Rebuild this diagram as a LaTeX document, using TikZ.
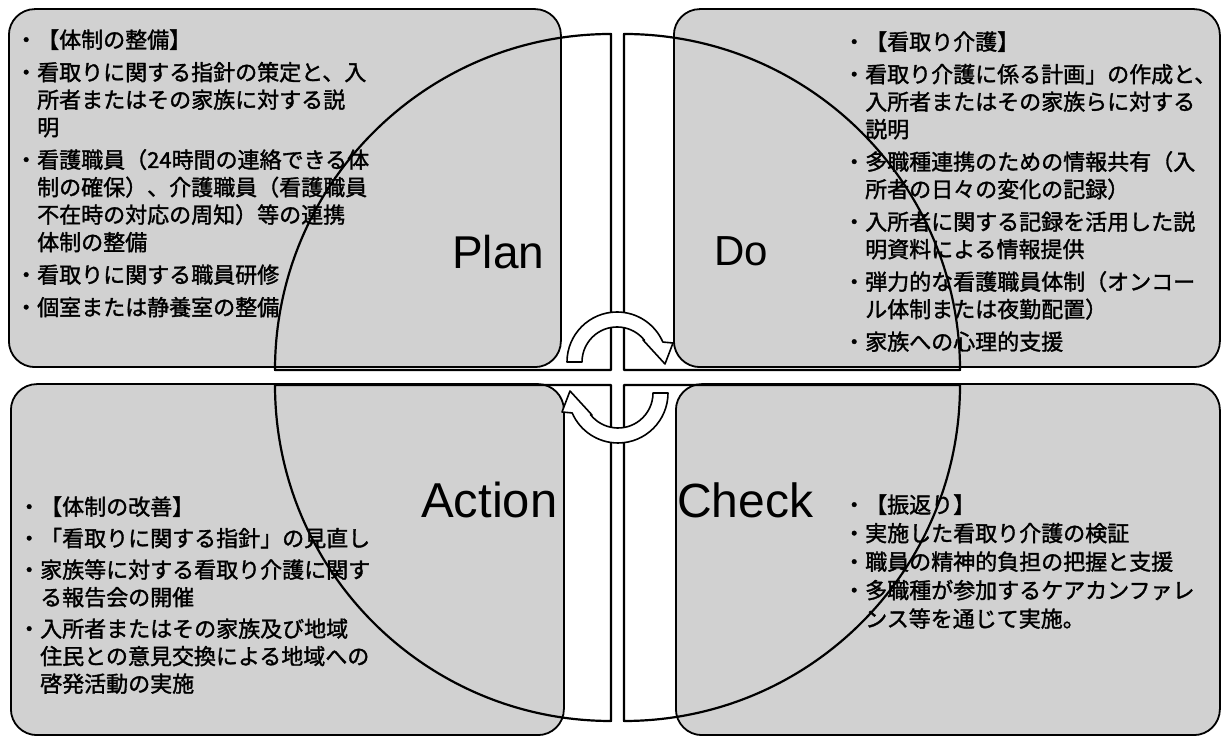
\documentclass[tikz,border=0pt]{standalone}
\usepackage{fontspec}
\setmainfont{Liberation Sans}
\newfontfamily\jp[FakeBold=1.5]{Noto Sans CJK JP}
\newcommand{\bulx}{\makebox[15pt][l]{\hspace*{-7pt}・}}
\newcommand{\indx}{\hspace*{15pt}}
\begin{document}
\begin{tikzpicture}[x=1pt,y=1pt,
  box/.style={draw=black, line width=1.8pt, fill=black!18, rounded corners=26pt, inner sep=0pt, anchor=south west},
  quarter/.style={draw=black, line width=2.2pt, line join=round},
  cyc/.style={draw=black, line width=1.6pt, fill=white, line join=round},
  lbl/.style={anchor=base west, inner sep=0pt},
  txt/.style={anchor=base west, inner sep=0pt}
]
\useasboundingbox (0,0) rectangle (1226,738);
\fill[white] (0,0) rectangle (1226,738);

% boxes
\node[box, minimum width=552pt, minimum height=358pt] (planbox) at (8,370) {};
\node[box, minimum width=546pt, minimum height=358pt] (dobox) at (673,370) {};
\node[box, minimum width=553pt, minimum height=351pt] (actbox) at (10,2) {};
\node[box, minimum width=544pt, minimum height=351pt] (chkbox) at (675,2) {};

% quarters of the cycle
\draw[quarter] (611,368) -- (611,704) arc[start angle=90, end angle=180, radius=336pt] -- cycle;
\draw[quarter] (624,368) -- (960,368) arc[start angle=0, end angle=90, radius=336pt] -- cycle;
\draw[quarter] (611,353) -- (275,353) arc[start angle=180, end angle=270, radius=336pt] -- cycle;
\draw[quarter] (624,353) -- (624,17) arc[start angle=270, end angle=360, radius=336pt] -- cycle;

% circular arrows
\begin{scope}[shift={(617,376)}]
\draw[cyc] (180:50pt) arc[start angle=180, end angle=23.5, radius=50pt] -- (56,19) -- (48,-2) -- (26,22) -- (38.3:35pt) arc[start angle=38.3, end angle=180, radius=35pt] -- cycle;
\end{scope}
\begin{scope}[shift={(618,345)}, rotate=180]
\draw[cyc] (180:50pt) arc[start angle=180, end angle=23.5, radius=50pt] -- (56,19) -- (48,-2) -- (26,22) -- (38.3:35pt) arc[start angle=38.3, end angle=180, radius=35pt] -- cycle;
\end{scope}

% labels
\node[lbl, font=\fontsize{46}{48}\selectfont] (plan) at (452,469) {Plan};
\node[lbl, font=\fontsize{42}{44}\selectfont] (do) at (714,472) {Do};
\node[lbl, font=\fontsize{49}{51}\selectfont] (action) at (421,220) {Action};
\node[lbl, font=\fontsize{48}{50}\selectfont] (check) at (677,220) {Check};

% texts
\node[txt] (plantext) at (22,690) {\parbox[t]{420pt}{\jp\fontsize{22}{27.5}\selectfont
\bulx{}【体制の整備】\\[5pt]
\bulx{}看取りに関する指針の策定と、入\\
\indx{}所者またはその家族に対する説\\
\indx{}明\\[5pt]
\bulx{}看護職員（24時間の連絡できる体\\
\indx{}制の確保）、介護職員（看護職員\\
\indx{}不在時の対応の周知）等の連携\\
\indx{}体制の整備\\[5pt]
\bulx{}看取りに関する職員研修\\[5pt]
\bulx{}個室または静養室の整備}};

\node[txt] (dotext) at (850,688) {\parbox[t]{420pt}{\jp\fontsize{22}{27.5}\selectfont
\bulx{}【看取り介護】\\[5pt]
\bulx{}看取り介護に係る計画」の作成と、\\
\indx{}入所者またはその家族らに対する\\
\indx{}説明\\[5pt]
\bulx{}多職種連携のための情報共有（入\\
\indx{}所者の日々の変化の記録）\\[5pt]
\bulx{}入所者に関する記録を活用した説\\
\indx{}明資料による情報提供\\[5pt]
\bulx{}弾力的な看護職員体制（オンコー\\
\indx{}ル体制または夜勤配置）\\[5pt]
\bulx{}家族への心理的支援}};

\node[txt] (acttext) at (25,223) {\parbox[t]{420pt}{\jp\fontsize{22}{27.5}\selectfont
\bulx{}【体制の改善】\\[4pt]
\bulx{}「看取りに関する指針」の見直し\\[4pt]
\bulx{}家族等に対する看取り介護に関す\\
\indx{}る報告会の開催\\[4pt]
\bulx{}入所者またはその家族及び地域\\
\indx{}住民との意見交換による地域への\\
\indx{}啓発活動の実施}};

\node[txt] (chktext) at (850,225) {\parbox[t]{420pt}{\jp\fontsize{22}{28.5}\selectfont
\bulx{}【振返り】\\
\bulx{}実施した看取り介護の検証\\
\bulx{}職員の精神的負担の把握と支援\\
\bulx{}多職種が参加するケアカンファレ\\
\indx{}ンス等を通じて実施。}};
\end{tikzpicture}
\end{document}
